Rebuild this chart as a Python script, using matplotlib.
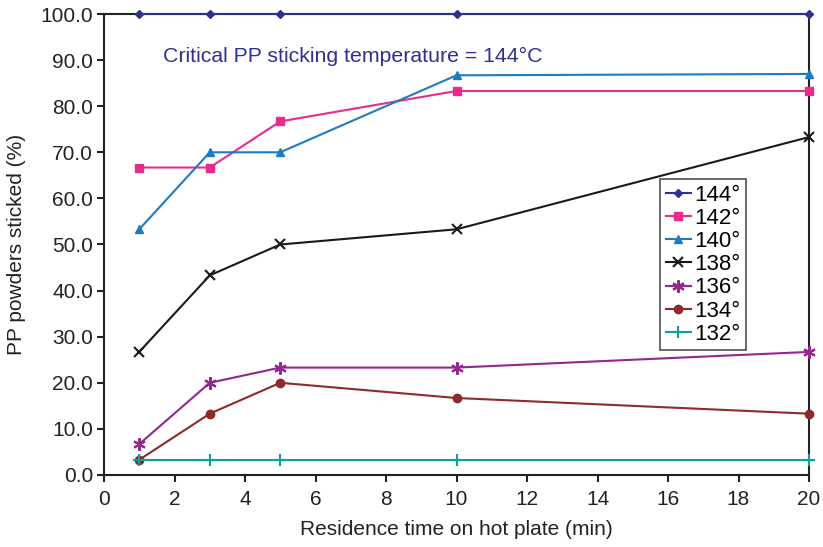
import matplotlib
matplotlib.use("Agg")
from matplotlib import pyplot as plt

times = [1, 3, 5, 10, 20]
labels = ["144°", "142°", "140°", "138°", "136°", "134°", "132°"]
s144 = [100.0, 100.0, 100.0, 100.0, 100.0]
s142 = [66.7, 66.7, 76.7, 83.3, 83.3]
s140 = [53.3, 70.0, 70.0, 86.7, 87.0]
s138 = [26.7, 43.3, 50.0, 53.3, 73.3]
s136 = [6.7, 20.0, 23.3, 23.3, 26.7]
s134 = [3.3, 13.3, 20.0, 16.7, 13.3]
s132 = [3.3, 3.3, 3.3, 3.3, 3.3]

series = [s144, s142, s140, s138, s136, s134, s132]
colors = ["#2E3192", "#EC2A8C", "#1F7BC1", "#1a1a1a", "#93278F", "#8E2A2A", "#0E9FA3"]
markers = ["D", "s", "^", "x", (6, 2, 0), "o", "+"]
msizes = [4, 6, 6, 7, 9, 6, 9]

plt.rcParams["font.family"] = ["Liberation Sans", "DejaVu Sans"]

fig = plt.figure(figsize=(8.23, 5.47), dpi=100)
ax = fig.add_axes([104/823, 72/547, 705/823, 461/547])

for ys, lab, c, m, ms in zip(series, labels, colors, markers, msizes):
    ax.plot(times, ys, color=c, marker=m, markersize=ms, lw=1.5,
            markeredgewidth=1.5 if m in ("x", "+") or isinstance(m, tuple) else 1,
            label=lab, clip_on=False, zorder=3)

ax.set_xlim(0, 20)
ax.set_ylim(0, 100)
ax.set_xticks(range(0, 21, 2))
ax.set_yticks(range(0, 101, 10))
ax.set_yticklabels(["%.1f" % v for v in range(0, 101, 10)])
ax.tick_params(direction="out", length=5, width=1.5, labelsize=15, colors="#222222", pad=3)
ax.tick_params(axis="x", pad=6)
for s in ax.spines.values():
    s.set_linewidth(1.5)
    s.set_color("#222222")

ax.set_xlabel("Residence time on hot plate (min)", fontsize=15, color="#222222", labelpad=8)
ax.set_ylabel("PP powders sticked (%)", fontsize=15, color="#222222", labelpad=10)

ax.text(1.68, 90.8, "Critical PP sticking temperature = 144°C", fontsize=15.3,
        color="#2E3192", va="center", ha="left")

leg = ax.legend(loc="upper left", bbox_to_anchor=(660/823, (547-179)/547),
                bbox_transform=fig.transFigure, frameon=True, fancybox=False,
                fontsize=16, handlelength=1.15, handletextpad=0.12,
                borderpad=0.25, labelspacing=0.1, borderaxespad=0)
leg.get_frame().set_edgecolor("#222222")
leg.get_frame().set_linewidth(1.2)

fig.savefig("out.png", dpi=100)
